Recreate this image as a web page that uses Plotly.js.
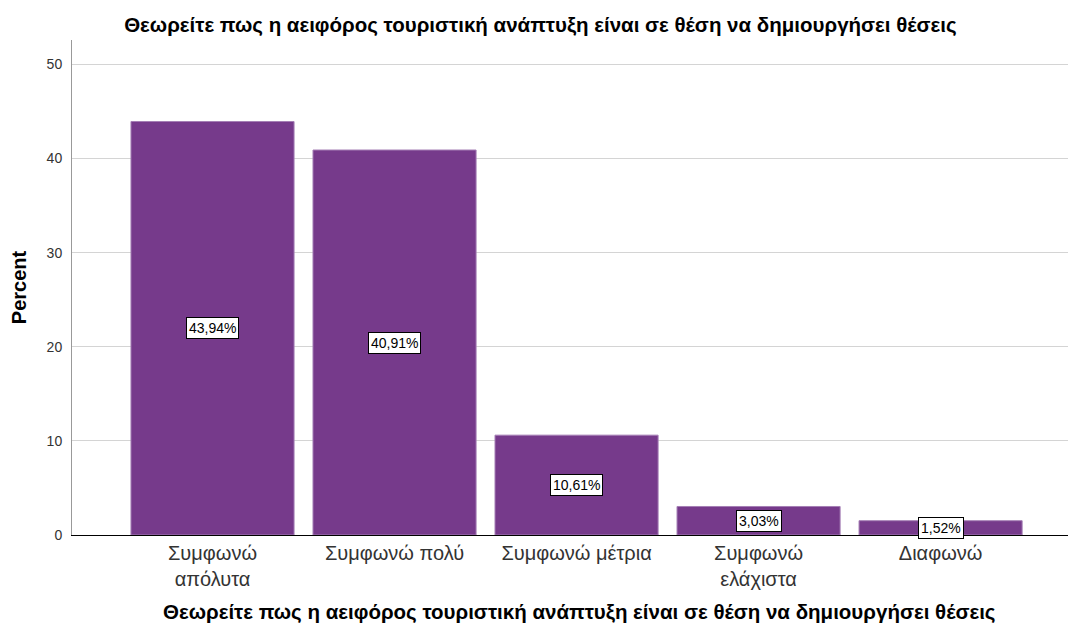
<!DOCTYPE html>
<html>
<head>
<meta charset="utf-8">
<script src="https://cdn.plot.ly/plotly-3.0.1.min.js"></script>
<style>html,body{margin:0;padding:0;background:#fff;}#chart{width:1068px;height:628px;}</style>
</head>
<body>
<div id="chart"></div>
<script>
var categories = ["Συμφωνώ<br>απόλυτα", "Συμφωνώ πολύ", "Συμφωνώ μέτρια", "Συμφωνώ<br>ελάχιστα", "Διαφωνώ"];
var percents = [43.94, 40.91, 10.61, 3.03, 1.52];
var valueLabels = ["43,94%", "40,91%", "10,61%", "3,03%", "1,52%"];
var yTicks = [0, 10, 20, 30, 40, 50];
var titleText = "Θεωρείτε πως η αειφόρος τουριστική ανάπτυξη είναι σε θέση να δημιουργήσει θέσεις";
var FONT = "Liberation Sans, Arial, sans-serif";

var idx = categories.map(function(_, i){ return i; });
var trace = {
  type: "bar",
  x: idx,
  y: percents,
  marker: {color: "#763A8B", line: {color: "#A57FB5", width: 1}},
  hoverinfo: "none"
};
var annotations = percents.map(function(v, i){
  return {
    x: i, y: v / 2, xref: "x", yref: "y",
    text: valueLabels[i], showarrow: false,
    font: {family: FONT, size: 14, color: "#000"},
    bgcolor: "#fff", bordercolor: "#000", borderwidth: 1, borderpad: 2
  };
});
annotations.push({
  x: 0.51, xref: "paper", xanchor: "center",
  y: 612, yref: "paper", yanchor: "middle",
  text: titleText, showarrow: false,
  font: {family: FONT, size: 20.5, color: "#000", weight: "bold"}
});
var layout = {
  width: 1068, height: 628,
  margin: {l: 72, r: 0, t: 40, b: 93},
  paper_bgcolor: "#fff", plot_bgcolor: "#fff",
  showlegend: false,
  bargap: 0.104,
  title: {text: titleText, x: 0.506, xanchor: "center", y: 0.96, yanchor: "middle",
          font: {family: FONT, size: 20.5, color: "#000", weight: "bold"}},
  xaxis: {
    range: [-0.772, 4.70],
    tickmode: "array", tickvals: idx, ticktext: categories,
    tickfont: {family: FONT, size: 20, color: "#333"},
    showgrid: false, zeroline: false,
    showline: true, linecolor: "#000", linewidth: 1,
    ticks: "", ticklen: 0
  },
  yaxis: {
    range: [0, 52.6],
    tickmode: "array", tickvals: yTicks, ticktext: yTicks.map(String),
    tickfont: {family: FONT, size: 14, color: "#333"},
    showgrid: true, gridcolor: "#d4d4d4", gridwidth: 1,
    zeroline: false, showline: true, linecolor: "#999", linewidth: 1,
    ticks: "", ticklabelstandoff: 6,
    title: {text: "Percent", standoff: 14,
            font: {family: FONT, size: 20, color: "#000", weight: "bold"}}
  },
  annotations: annotations
};
// place x-axis title annotation in paper coords (y measured from bottom)
layout.annotations[layout.annotations.length - 1].y = -(612 - 535) / (628 - 40 - 93);
Plotly.newPlot("chart", [trace], layout, {displayModeBar: false, staticPlot: true});
</script>
</body>
</html>
